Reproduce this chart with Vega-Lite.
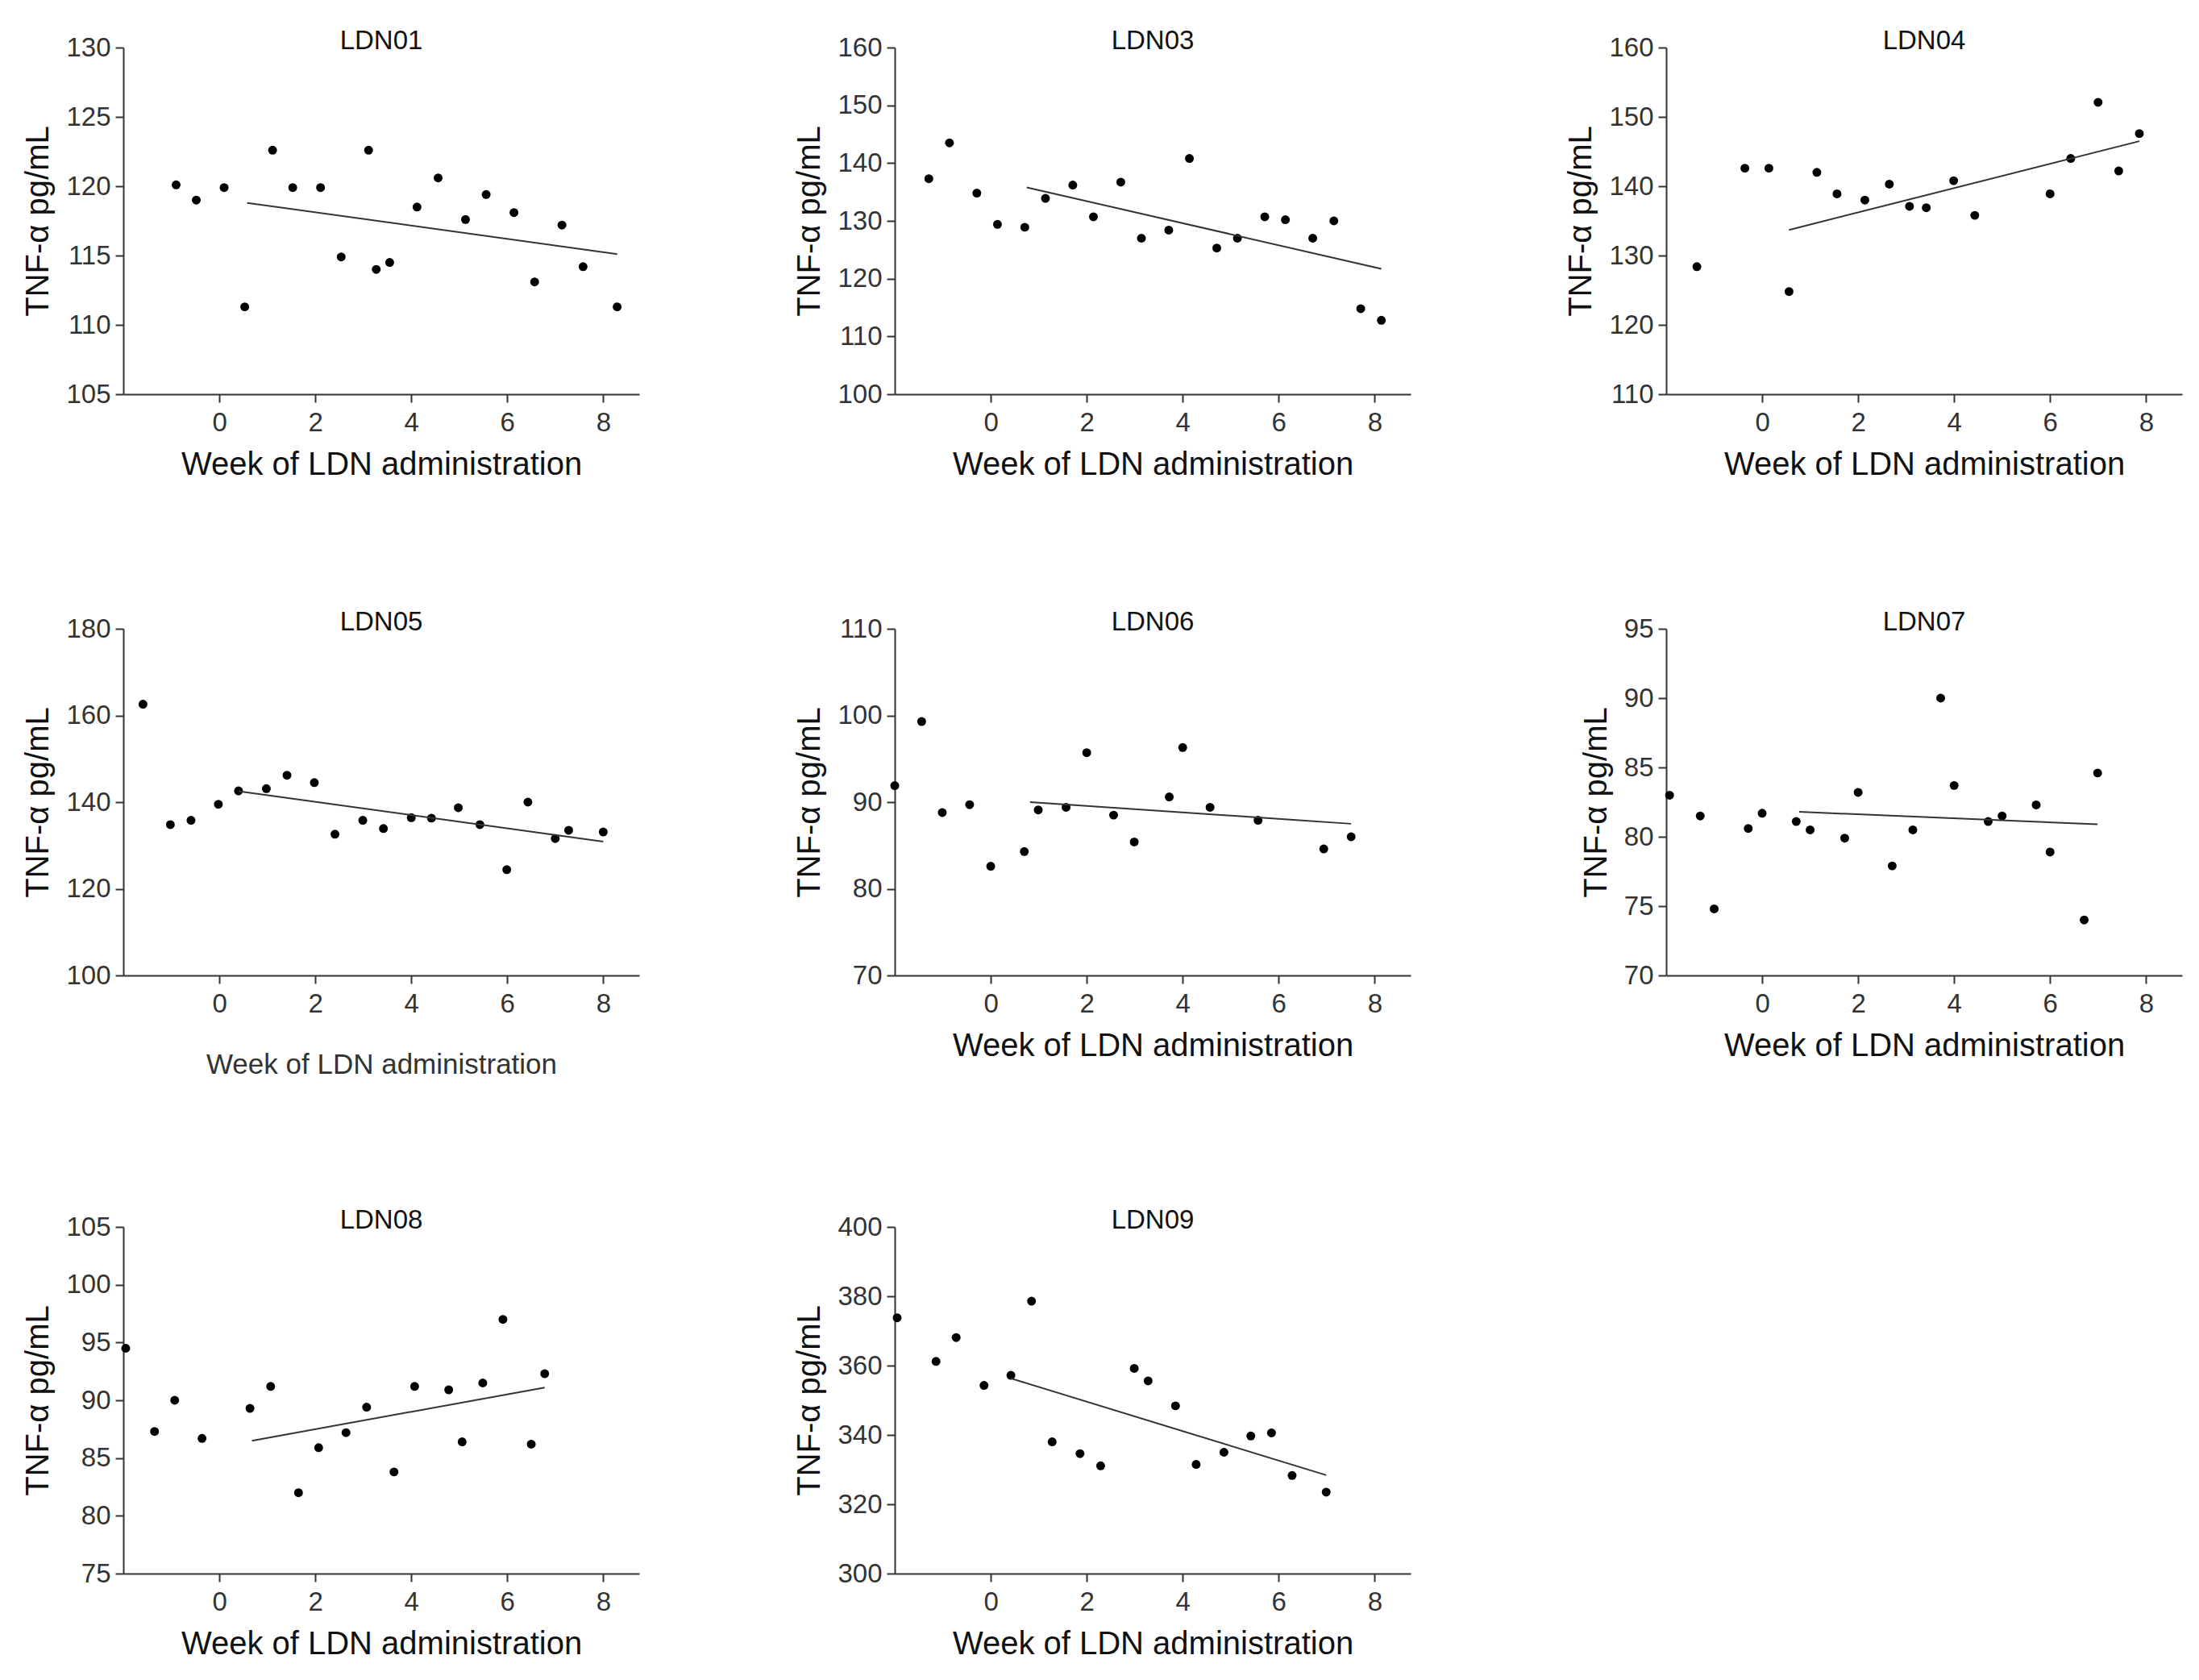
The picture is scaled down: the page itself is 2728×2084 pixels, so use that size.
{
  "$schema": "https://vega.github.io/schema/vega-lite/v6.json",
  "padding": {"left": 27, "top": 35, "right": 5, "bottom": 5},
  "background": "white",
  "datasets": {
    "pts": [
      {"panel": "LDN01", "week": -0.9, "tnf": 120.1},
      {"panel": "LDN01", "week": -0.48, "tnf": 119.0},
      {"panel": "LDN01", "week": 0.1, "tnf": 119.9},
      {"panel": "LDN01", "week": 0.53, "tnf": 111.3},
      {"panel": "LDN01", "week": 1.11, "tnf": 122.6},
      {"panel": "LDN01", "week": 1.53, "tnf": 119.9},
      {"panel": "LDN01", "week": 2.11, "tnf": 119.9},
      {"panel": "LDN01", "week": 2.54, "tnf": 114.9},
      {"panel": "LDN01", "week": 3.11, "tnf": 122.6},
      {"panel": "LDN01", "week": 3.27, "tnf": 114.0},
      {"panel": "LDN01", "week": 3.55, "tnf": 114.5},
      {"panel": "LDN01", "week": 4.12, "tnf": 118.5},
      {"panel": "LDN01", "week": 4.56, "tnf": 120.6},
      {"panel": "LDN01", "week": 5.13, "tnf": 117.6},
      {"panel": "LDN01", "week": 5.56, "tnf": 119.4},
      {"panel": "LDN01", "week": 6.14, "tnf": 118.1},
      {"panel": "LDN01", "week": 6.57, "tnf": 113.1},
      {"panel": "LDN01", "week": 7.14, "tnf": 117.2},
      {"panel": "LDN01", "week": 7.58, "tnf": 114.2},
      {"panel": "LDN01", "week": 8.29, "tnf": 111.3},

      {"panel": "LDN03", "week": -1.29, "tnf": 137.3},
      {"panel": "LDN03", "week": -0.86, "tnf": 143.5},
      {"panel": "LDN03", "week": -0.29, "tnf": 134.8},
      {"panel": "LDN03", "week": 0.14, "tnf": 129.4},
      {"panel": "LDN03", "week": 0.71, "tnf": 128.9},
      {"panel": "LDN03", "week": 1.14, "tnf": 133.9},
      {"panel": "LDN03", "week": 1.71, "tnf": 136.2},
      {"panel": "LDN03", "week": 2.14, "tnf": 130.7},
      {"panel": "LDN03", "week": 2.71, "tnf": 136.7},
      {"panel": "LDN03", "week": 3.14, "tnf": 127.0},
      {"panel": "LDN03", "week": 3.71, "tnf": 128.4},
      {"panel": "LDN03", "week": 4.14, "tnf": 140.8},
      {"panel": "LDN03", "week": 4.71, "tnf": 125.3},
      {"panel": "LDN03", "week": 5.14, "tnf": 127.0},
      {"panel": "LDN03", "week": 5.71, "tnf": 130.7},
      {"panel": "LDN03", "week": 6.14, "tnf": 130.2},
      {"panel": "LDN03", "week": 6.71, "tnf": 127.0},
      {"panel": "LDN03", "week": 7.15, "tnf": 130.0},
      {"panel": "LDN03", "week": 7.71, "tnf": 114.8},
      {"panel": "LDN03", "week": 8.14, "tnf": 112.8},

      {"panel": "LDN04", "week": -1.36, "tnf": 128.4},
      {"panel": "LDN04", "week": -0.36, "tnf": 142.6},
      {"panel": "LDN04", "week": 0.14, "tnf": 142.6},
      {"panel": "LDN04", "week": 0.56, "tnf": 124.8},
      {"panel": "LDN04", "week": 1.14, "tnf": 142.0},
      {"panel": "LDN04", "week": 1.56, "tnf": 138.9},
      {"panel": "LDN04", "week": 2.14, "tnf": 138.0},
      {"panel": "LDN04", "week": 2.65, "tnf": 140.3},
      {"panel": "LDN04", "week": 3.07, "tnf": 137.1},
      {"panel": "LDN04", "week": 3.42, "tnf": 136.9},
      {"panel": "LDN04", "week": 3.99, "tnf": 140.8},
      {"panel": "LDN04", "week": 4.43, "tnf": 135.8},
      {"panel": "LDN04", "week": 6.0, "tnf": 138.9},
      {"panel": "LDN04", "week": 6.43, "tnf": 144.0},
      {"panel": "LDN04", "week": 7.0, "tnf": 152.1},
      {"panel": "LDN04", "week": 7.43, "tnf": 142.2},
      {"panel": "LDN04", "week": 7.86, "tnf": 147.6},

      {"panel": "LDN05", "week": -1.59, "tnf": 162.6},
      {"panel": "LDN05", "week": -1.02, "tnf": 134.8},
      {"panel": "LDN05", "week": -0.59, "tnf": 135.8},
      {"panel": "LDN05", "week": -0.02, "tnf": 139.5},
      {"panel": "LDN05", "week": 0.4, "tnf": 142.6},
      {"panel": "LDN05", "week": 0.98, "tnf": 143.1},
      {"panel": "LDN05", "week": 1.41, "tnf": 146.2},
      {"panel": "LDN05", "week": 1.98, "tnf": 144.5},
      {"panel": "LDN05", "week": 2.41, "tnf": 132.6},
      {"panel": "LDN05", "week": 2.99, "tnf": 135.8},
      {"panel": "LDN05", "week": 3.42, "tnf": 133.9},
      {"panel": "LDN05", "week": 4.0, "tnf": 136.4},
      {"panel": "LDN05", "week": 4.42, "tnf": 136.3},
      {"panel": "LDN05", "week": 4.98, "tnf": 138.7},
      {"panel": "LDN05", "week": 5.43, "tnf": 134.8},
      {"panel": "LDN05", "week": 5.99, "tnf": 124.4},
      {"panel": "LDN05", "week": 6.43, "tnf": 140.0},
      {"panel": "LDN05", "week": 7.0, "tnf": 131.6},
      {"panel": "LDN05", "week": 7.28, "tnf": 133.5},
      {"panel": "LDN05", "week": 8.0, "tnf": 133.1},

      {"panel": "LDN06", "week": -2.0, "tnf": 91.9},
      {"panel": "LDN06", "week": -1.44, "tnf": 99.3},
      {"panel": "LDN06", "week": -1.01, "tnf": 88.8},
      {"panel": "LDN06", "week": -0.44, "tnf": 89.7},
      {"panel": "LDN06", "week": 0.0, "tnf": 82.6},
      {"panel": "LDN06", "week": 0.7, "tnf": 84.3},
      {"panel": "LDN06", "week": 0.99, "tnf": 89.1},
      {"panel": "LDN06", "week": 1.57, "tnf": 89.4},
      {"panel": "LDN06", "week": 2.0, "tnf": 95.7},
      {"panel": "LDN06", "week": 2.56, "tnf": 88.5},
      {"panel": "LDN06", "week": 2.99, "tnf": 85.4},
      {"panel": "LDN06", "week": 3.72, "tnf": 90.6},
      {"panel": "LDN06", "week": 4.0, "tnf": 96.3},
      {"panel": "LDN06", "week": 4.57, "tnf": 89.4},
      {"panel": "LDN06", "week": 5.57, "tnf": 87.9},
      {"panel": "LDN06", "week": 6.94, "tnf": 84.6},
      {"panel": "LDN06", "week": 7.51, "tnf": 86.0},

      {"panel": "LDN07", "week": -1.93, "tnf": 83.0},
      {"panel": "LDN07", "week": -1.29, "tnf": 81.5},
      {"panel": "LDN07", "week": -1.0, "tnf": 74.8},
      {"panel": "LDN07", "week": -0.29, "tnf": 80.6},
      {"panel": "LDN07", "week": 0.0, "tnf": 81.7},
      {"panel": "LDN07", "week": 0.71, "tnf": 81.1},
      {"panel": "LDN07", "week": 1.0, "tnf": 80.5},
      {"panel": "LDN07", "week": 1.72, "tnf": 79.9},
      {"panel": "LDN07", "week": 2.0, "tnf": 83.2},
      {"panel": "LDN07", "week": 2.71, "tnf": 77.9},
      {"panel": "LDN07", "week": 3.14, "tnf": 80.5},
      {"panel": "LDN07", "week": 3.72, "tnf": 90.0},
      {"panel": "LDN07", "week": 4.0, "tnf": 83.7},
      {"panel": "LDN07", "week": 4.71, "tnf": 81.1},
      {"panel": "LDN07", "week": 5.0, "tnf": 81.5},
      {"panel": "LDN07", "week": 5.71, "tnf": 82.3},
      {"panel": "LDN07", "week": 6.0, "tnf": 78.9},
      {"panel": "LDN07", "week": 6.71, "tnf": 74.0},
      {"panel": "LDN07", "week": 6.99, "tnf": 84.6},

      {"panel": "LDN08", "week": -1.95, "tnf": 94.5},
      {"panel": "LDN08", "week": -1.35, "tnf": 87.3},
      {"panel": "LDN08", "week": -0.93, "tnf": 90.0},
      {"panel": "LDN08", "week": -0.36, "tnf": 86.7},
      {"panel": "LDN08", "week": 0.64, "tnf": 89.3},
      {"panel": "LDN08", "week": 1.07, "tnf": 91.2},
      {"panel": "LDN08", "week": 1.65, "tnf": 82.0},
      {"panel": "LDN08", "week": 2.07, "tnf": 85.9},
      {"panel": "LDN08", "week": 2.64, "tnf": 87.2},
      {"panel": "LDN08", "week": 3.07, "tnf": 89.4},
      {"panel": "LDN08", "week": 3.64, "tnf": 83.8},
      {"panel": "LDN08", "week": 4.07, "tnf": 91.2},
      {"panel": "LDN08", "week": 4.78, "tnf": 90.9},
      {"panel": "LDN08", "week": 5.06, "tnf": 86.4},
      {"panel": "LDN08", "week": 5.49, "tnf": 91.5},
      {"panel": "LDN08", "week": 5.91, "tnf": 97.0},
      {"panel": "LDN08", "week": 6.5, "tnf": 86.2},
      {"panel": "LDN08", "week": 6.78, "tnf": 92.3},

      {"panel": "LDN09", "week": -1.95, "tnf": 373.8},
      {"panel": "LDN09", "week": -1.14, "tnf": 361.2},
      {"panel": "LDN09", "week": -0.72, "tnf": 368.1},
      {"panel": "LDN09", "week": -0.14, "tnf": 354.3},
      {"panel": "LDN09", "week": 0.42, "tnf": 357.2},
      {"panel": "LDN09", "week": 0.85, "tnf": 378.6},
      {"panel": "LDN09", "week": 1.28, "tnf": 338.0},
      {"panel": "LDN09", "week": 1.86, "tnf": 334.6},
      {"panel": "LDN09", "week": 2.29, "tnf": 331.1},
      {"panel": "LDN09", "week": 2.99, "tnf": 359.2},
      {"panel": "LDN09", "week": 3.28, "tnf": 355.6},
      {"panel": "LDN09", "week": 3.85, "tnf": 348.4},
      {"panel": "LDN09", "week": 4.28, "tnf": 331.5},
      {"panel": "LDN09", "week": 4.86, "tnf": 335.0},
      {"panel": "LDN09", "week": 5.42, "tnf": 339.7},
      {"panel": "LDN09", "week": 5.85, "tnf": 340.6},
      {"panel": "LDN09", "week": 6.28, "tnf": 328.3},
      {"panel": "LDN09", "week": 6.99, "tnf": 323.5}
    ],
    "fit": [
      {"panel": "LDN01", "week": 0.58, "tnf": 118.8},
      {"panel": "LDN01", "week": 8.29, "tnf": 115.1},
      {"panel": "LDN03", "week": 0.75, "tnf": 135.8},
      {"panel": "LDN03", "week": 8.14, "tnf": 121.7},
      {"panel": "LDN04", "week": 0.56, "tnf": 133.7},
      {"panel": "LDN04", "week": 7.86, "tnf": 146.5},
      {"panel": "LDN05", "week": 0.4, "tnf": 142.5},
      {"panel": "LDN05", "week": 8.0, "tnf": 130.9},
      {"panel": "LDN06", "week": 0.82, "tnf": 90.0},
      {"panel": "LDN06", "week": 7.51, "tnf": 87.5},
      {"panel": "LDN07", "week": 0.77, "tnf": 81.8},
      {"panel": "LDN07", "week": 6.99, "tnf": 80.9},
      {"panel": "LDN08", "week": 0.68, "tnf": 86.5},
      {"panel": "LDN08", "week": 6.78, "tnf": 91.1},
      {"panel": "LDN09", "week": 0.42, "tnf": 356.3},
      {"panel": "LDN09", "week": 6.99, "tnf": 328.4}
    ]
  },
  "spacing": 160,
  "bounds": "full",
  "vconcat": [
    {
      "spacing": 317,
      "bounds": "flush",
      "hconcat": [
        {
          "title": "LDN01", "width": 640, "height": 430,
          "layer": [
            {"data": {"name": "pts"}, "transform": [{"filter": "datum.panel === 'LDN01'"}],
             "mark": {"type": "circle", "size": 120, "color": "black", "opacity": 1},
             "encoding": {
               "x": {"field": "week", "type": "quantitative", "scale": {"domain": [-2, 8.75], "nice": false, "zero": false}, "axis": {"values": [0, 2, 4, 6, 8], "format": "d", "title": "Week of LDN administration"}},
               "y": {"field": "tnf", "type": "quantitative", "scale": {"domain": [105, 130], "nice": false, "zero": false}, "axis": {"values": [105, 110, 115, 120, 125, 130], "title": "TNF-α pg/mL"}}}},
            {"data": {"name": "fit"}, "transform": [{"filter": "datum.panel === 'LDN01'"}],
             "mark": {"type": "line", "color": "#333", "strokeWidth": 2},
             "encoding": {"x": {"field": "week", "type": "quantitative"}, "y": {"field": "tnf", "type": "quantitative"}}}
          ]
        },
        {
          "title": "LDN03", "width": 640, "height": 430,
          "layer": [
            {"data": {"name": "pts"}, "transform": [{"filter": "datum.panel === 'LDN03'"}],
             "mark": {"type": "circle", "size": 120, "color": "black", "opacity": 1},
             "encoding": {
               "x": {"field": "week", "type": "quantitative", "scale": {"domain": [-2, 8.75], "nice": false, "zero": false}, "axis": {"values": [0, 2, 4, 6, 8], "format": "d", "title": "Week of LDN administration"}},
               "y": {"field": "tnf", "type": "quantitative", "scale": {"domain": [100, 160], "nice": false, "zero": false}, "axis": {"values": [100, 110, 120, 130, 140, 150, 160], "title": "TNF-α pg/mL"}}}},
            {"data": {"name": "fit"}, "transform": [{"filter": "datum.panel === 'LDN03'"}],
             "mark": {"type": "line", "color": "#333", "strokeWidth": 2},
             "encoding": {"x": {"field": "week", "type": "quantitative"}, "y": {"field": "tnf", "type": "quantitative"}}}
          ]
        },
        {
          "title": "LDN04", "width": 640, "height": 430,
          "layer": [
            {"data": {"name": "pts"}, "transform": [{"filter": "datum.panel === 'LDN04'"}],
             "mark": {"type": "circle", "size": 120, "color": "black", "opacity": 1},
             "encoding": {
               "x": {"field": "week", "type": "quantitative", "scale": {"domain": [-2, 8.75], "nice": false, "zero": false}, "axis": {"values": [0, 2, 4, 6, 8], "format": "d", "title": "Week of LDN administration"}},
               "y": {"field": "tnf", "type": "quantitative", "scale": {"domain": [110, 160], "nice": false, "zero": false}, "axis": {"values": [110, 120, 130, 140, 150, 160], "title": "TNF-α pg/mL"}}}},
            {"data": {"name": "fit"}, "transform": [{"filter": "datum.panel === 'LDN04'"}],
             "mark": {"type": "line", "color": "#333", "strokeWidth": 2},
             "encoding": {"x": {"field": "week", "type": "quantitative"}, "y": {"field": "tnf", "type": "quantitative"}}}
          ]
        }
      ]
    },
    {
      "spacing": 317,
      "bounds": "flush",
      "hconcat": [
        {
          "title": "LDN05", "width": 640, "height": 430,
          "layer": [
            {"data": {"name": "pts"}, "transform": [{"filter": "datum.panel === 'LDN05'"}],
             "mark": {"type": "circle", "size": 120, "color": "black", "opacity": 1},
             "encoding": {
               "x": {"field": "week", "type": "quantitative", "scale": {"domain": [-2, 8.75], "nice": false, "zero": false}, "axis": {"values": [0, 2, 4, 6, 8], "format": "d", "title": "Week of LDN administration", "titleFontSize": 35, "titlePadding": 41, "titleColor": "#333"}},
               "y": {"field": "tnf", "type": "quantitative", "scale": {"domain": [100, 180], "nice": false, "zero": false}, "axis": {"values": [100, 120, 140, 160, 180], "title": "TNF-α pg/mL"}}}},
            {"data": {"name": "fit"}, "transform": [{"filter": "datum.panel === 'LDN05'"}],
             "mark": {"type": "line", "color": "#333", "strokeWidth": 2},
             "encoding": {"x": {"field": "week", "type": "quantitative"}, "y": {"field": "tnf", "type": "quantitative"}}}
          ]
        },
        {
          "title": "LDN06", "width": 640, "height": 430,
          "layer": [
            {"data": {"name": "pts"}, "transform": [{"filter": "datum.panel === 'LDN06'"}],
             "mark": {"type": "circle", "size": 120, "color": "black", "opacity": 1},
             "encoding": {
               "x": {"field": "week", "type": "quantitative", "scale": {"domain": [-2, 8.75], "nice": false, "zero": false}, "axis": {"values": [0, 2, 4, 6, 8], "format": "d", "title": "Week of LDN administration"}},
               "y": {"field": "tnf", "type": "quantitative", "scale": {"domain": [70, 110], "nice": false, "zero": false}, "axis": {"values": [70, 80, 90, 100, 110], "title": "TNF-α pg/mL"}}}},
            {"data": {"name": "fit"}, "transform": [{"filter": "datum.panel === 'LDN06'"}],
             "mark": {"type": "line", "color": "#333", "strokeWidth": 2},
             "encoding": {"x": {"field": "week", "type": "quantitative"}, "y": {"field": "tnf", "type": "quantitative"}}}
          ]
        },
        {
          "title": "LDN07", "width": 640, "height": 430,
          "layer": [
            {"data": {"name": "pts"}, "transform": [{"filter": "datum.panel === 'LDN07'"}],
             "mark": {"type": "circle", "size": 120, "color": "black", "opacity": 1},
             "encoding": {
               "x": {"field": "week", "type": "quantitative", "scale": {"domain": [-2, 8.75], "nice": false, "zero": false}, "axis": {"values": [0, 2, 4, 6, 8], "format": "d", "title": "Week of LDN administration"}},
               "y": {"field": "tnf", "type": "quantitative", "scale": {"domain": [70, 95], "nice": false, "zero": false}, "axis": {"values": [70, 75, 80, 85, 90, 95], "title": "TNF-α pg/mL"}}}},
            {"data": {"name": "fit"}, "transform": [{"filter": "datum.panel === 'LDN07'"}],
             "mark": {"type": "line", "color": "#333", "strokeWidth": 2},
             "encoding": {"x": {"field": "week", "type": "quantitative"}, "y": {"field": "tnf", "type": "quantitative"}}}
          ]
        }
      ]
    },
    {
      "spacing": 317,
      "bounds": "flush",
      "hconcat": [
        {
          "title": "LDN08", "width": 640, "height": 430,
          "layer": [
            {"data": {"name": "pts"}, "transform": [{"filter": "datum.panel === 'LDN08'"}],
             "mark": {"type": "circle", "size": 120, "color": "black", "opacity": 1},
             "encoding": {
               "x": {"field": "week", "type": "quantitative", "scale": {"domain": [-2, 8.75], "nice": false, "zero": false}, "axis": {"values": [0, 2, 4, 6, 8], "format": "d", "title": "Week of LDN administration"}},
               "y": {"field": "tnf", "type": "quantitative", "scale": {"domain": [75, 105], "nice": false, "zero": false}, "axis": {"values": [75, 80, 85, 90, 95, 100, 105], "title": "TNF-α pg/mL"}}}},
            {"data": {"name": "fit"}, "transform": [{"filter": "datum.panel === 'LDN08'"}],
             "mark": {"type": "line", "color": "#333", "strokeWidth": 2},
             "encoding": {"x": {"field": "week", "type": "quantitative"}, "y": {"field": "tnf", "type": "quantitative"}}}
          ]
        },
        {
          "title": "LDN09", "width": 640, "height": 430,
          "layer": [
            {"data": {"name": "pts"}, "transform": [{"filter": "datum.panel === 'LDN09'"}],
             "mark": {"type": "circle", "size": 120, "color": "black", "opacity": 1},
             "encoding": {
               "x": {"field": "week", "type": "quantitative", "scale": {"domain": [-2, 8.75], "nice": false, "zero": false}, "axis": {"values": [0, 2, 4, 6, 8], "format": "d", "title": "Week of LDN administration"}},
               "y": {"field": "tnf", "type": "quantitative", "scale": {"domain": [300, 400], "nice": false, "zero": false}, "axis": {"values": [300, 320, 340, 360, 380, 400], "title": "TNF-α pg/mL"}}}},
            {"data": {"name": "fit"}, "transform": [{"filter": "datum.panel === 'LDN09'"}],
             "mark": {"type": "line", "color": "#333", "strokeWidth": 2},
             "encoding": {"x": {"field": "week", "type": "quantitative"}, "y": {"field": "tnf", "type": "quantitative"}}}
          ]
        }
      ]
    }
  ],
  "config": {
    "font": "Liberation Sans",
    "view": {"stroke": null},
    "title": {"fontSize": 33, "fontWeight": "normal", "color": "#111", "offset": -25, "frame": "group", "anchor": "middle"},
    "axis": {
      "grid": false,
      "domainColor": "#333",
      "domainWidth": 2,
      "tickColor": "#333",
      "tickWidth": 2,
      "tickSize": 10,
      "labelFontSize": 33,
      "labelColor": "#333",
      "labelPadding": 6,
      "titleFontSize": 40,
      "titleFontWeight": "normal",
      "titleColor": "#111"
    },
    "axisX": {"titlePadding": 15, "labelPadding": 9, "labelFlush": false},
    "axisY": {"titlePadding": 14, "labelFlush": false}
  }
}
